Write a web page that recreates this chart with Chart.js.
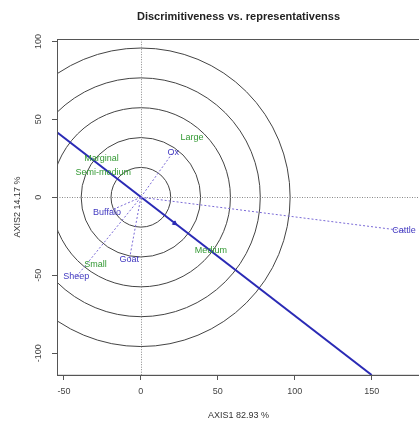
<!DOCTYPE html>
<html>
<head>
<meta charset="utf-8">
<script src="https://cdn.jsdelivr.net/npm/chart.js@4"></script>
<style>
  html, body { margin: 0; padding: 0; background: #fff; overflow: hidden; }
</style>
</head>
<body>
<canvas id="biplot" width="425" height="425"></canvas>
<script>
// genotypes (blue, with dotted vectors from the origin)
var genotypes = ['Ox', 'Buffalo', 'Goat', 'Sheep', 'Cattle'];
var genoX = [21, -22, -7.5, -42, 171];
var genoY = [29, -9.5, -40, -51, -21.5];

// environments (green labels)
var environments = ['Large', 'Marginal', 'Semi-medium', 'Small', 'Medium'];
var envX = [33.3, -25.6, -24.4, -29.5, 45.5];
var envY = [38.5, 25, 16, -43, -34];

// average environment axis
var aeaX = [-54.5, 150];
var aeaY = [41.7, -114];
var arrowX = [22];
var arrowY = [-16.7];

// concentric circles
var circleRadii = [19.4, 38.8, 58.2, 77.6, 97];

var xTicks = [-50, 0, 50, 100, 150];
var yTicks = [-100, -50, 0, 50, 100];
var xRange = [-54.5, 181.4];
var yRange = [-114, 101.4];

var genoColor = '#4038c0';
var envColor = '#339933';
var lineColor = '#2a2ab5';
var axisColor = '#555';

Chart.defaults.font.family = '"Liberation Sans", Arial, sans-serif';

var datasets = [];
for (var i = 0; i < genotypes.length; i++) {
  datasets.push({
    label: genotypes[i],
    data: [{ x: 0, y: 0 }, { x: genoX[i], y: genoY[i] }],
    showLine: true,
    borderColor: '#7a6ad6',
    borderWidth: 1,
    borderDash: [2, 2],
    pointRadius: 0
  });
}
datasets.push({
  label: 'AEA',
  data: aeaX.map(function(x, k) { return { x: x, y: aeaY[k] }; }),
  showLine: true,
  borderColor: lineColor,
  borderWidth: 2,
  pointRadius: 0
});
datasets.push({
  label: 'arrow',
  data: arrowX.map(function(x, k) { return { x: x, y: arrowY[k] }; }),
  pointStyle: 'triangle',
  pointRadius: 2.5,
  rotation: 127,
  backgroundColor: lineColor,
  borderColor: lineColor,
  borderWidth: 1
});

var biplotExtras = {
  id: 'biplotExtras',
  beforeDatasetsDraw: function(chart) {
    var ctx = chart.ctx, a = chart.chartArea;
    var xs = chart.scales.x, ys = chart.scales.y;
    var cx = xs.getPixelForValue(0), cy = ys.getPixelForValue(0);
    ctx.save();
    ctx.beginPath();
    ctx.rect(a.left, a.top, a.right - a.left, a.bottom - a.top);
    ctx.clip();
    // circles
    ctx.strokeStyle = '#444';
    ctx.lineWidth = 1;
    circleRadii.forEach(function(r) {
      var rp = xs.getPixelForValue(r) - cx;
      ctx.beginPath();
      ctx.arc(cx, cy, rp, 0, Math.PI * 2);
      ctx.stroke();
    });
    // zero lines
    ctx.strokeStyle = '#888';
    ctx.setLineDash([1, 1.5]);
    ctx.beginPath();
    ctx.moveTo(a.left, Math.round(cy) + 0.5);
    ctx.lineTo(a.right, Math.round(cy) + 0.5);
    ctx.moveTo(Math.round(cx) + 0.5, a.top);
    ctx.lineTo(Math.round(cx) + 0.5, a.bottom);
    ctx.stroke();
    ctx.restore();
  },
  afterDatasetsDraw: function(chart) {
    var ctx = chart.ctx, a = chart.chartArea;
    var xs = chart.scales.x, ys = chart.scales.y;
    ctx.save();
    ctx.font = '9px "Liberation Sans", Arial, sans-serif';
    ctx.textAlign = 'center';
    ctx.textBaseline = 'middle';
    ctx.fillStyle = genoColor;
    genotypes.forEach(function(g, i) {
      ctx.fillText(g, xs.getPixelForValue(genoX[i]), ys.getPixelForValue(genoY[i]));
    });
    ctx.fillStyle = envColor;
    environments.forEach(function(e, i) {
      ctx.fillText(e, xs.getPixelForValue(envX[i]), ys.getPixelForValue(envY[i]));
    });
    // frame
    ctx.strokeStyle = axisColor;
    ctx.lineWidth = 1;
    ctx.strokeRect(Math.round(a.left) + 0.5, Math.round(a.top) + 0.5, a.right - a.left, a.bottom - a.top);
    ctx.restore();
  }
};

new Chart(document.getElementById('biplot'), {
  type: 'scatter',
  data: { datasets: datasets },
  options: {
    responsive: false,
    animation: false,
    layout: { padding: 0 },
    plugins: {
      legend: { display: false },
      tooltip: { enabled: false },
      title: {
        display: true,
        text: 'Discrimitiveness vs. representativenss',
        fullSize: false,
        color: '#222',
        font: { size: 11, weight: 'bold' },
        padding: { top: 10, bottom: 16 }
      }
    },
    scales: {
      x: {
        type: 'linear',
        position: 'bottom',
        min: xRange[0],
        max: xRange[1],
        afterBuildTicks: function(s) { s.ticks = xTicks.map(function(v) { return { value: v }; }); },
        afterFit: function(s) { s.height = 50; },
        grid: { drawOnChartArea: false, drawTicks: true, tickLength: 5, tickColor: axisColor },
        border: { display: true, color: axisColor },
        ticks: {
          maxRotation: 0,
          padding: 6,
          color: '#444',
          font: { size: 9 },
          callback: function(v) { return String(v); }
        },
        title: {
          display: true,
          text: 'AXIS1 82.93 %',
          color: '#333',
          font: { size: 9 },
          padding: { top: 0, bottom: 4 }
        }
      },
      y: {
        type: 'linear',
        position: 'left',
        min: yRange[0],
        max: yRange[1],
        afterBuildTicks: function(s) { s.ticks = yTicks.map(function(v) { return { value: v }; }); },
        afterFit: function(s) { s.width = 57; },
        grid: { drawOnChartArea: false, drawTicks: true, tickLength: 5, tickColor: axisColor },
        border: { display: true, color: axisColor },
        ticks: {
          minRotation: 90,
          maxRotation: 90,
          crossAlign: 'center',
          padding: 4,
          color: '#444',
          font: { size: 9 },
          callback: function(v) { return String(v); }
        },
        title: {
          display: true,
          text: 'AXIS2 14.17 %',
          color: '#333',
          font: { size: 9 },
          padding: { top: 12, bottom: 0 }
        }
      }
    }
  },
  plugins: [biplotExtras]
});
</script>
</body>
</html>
